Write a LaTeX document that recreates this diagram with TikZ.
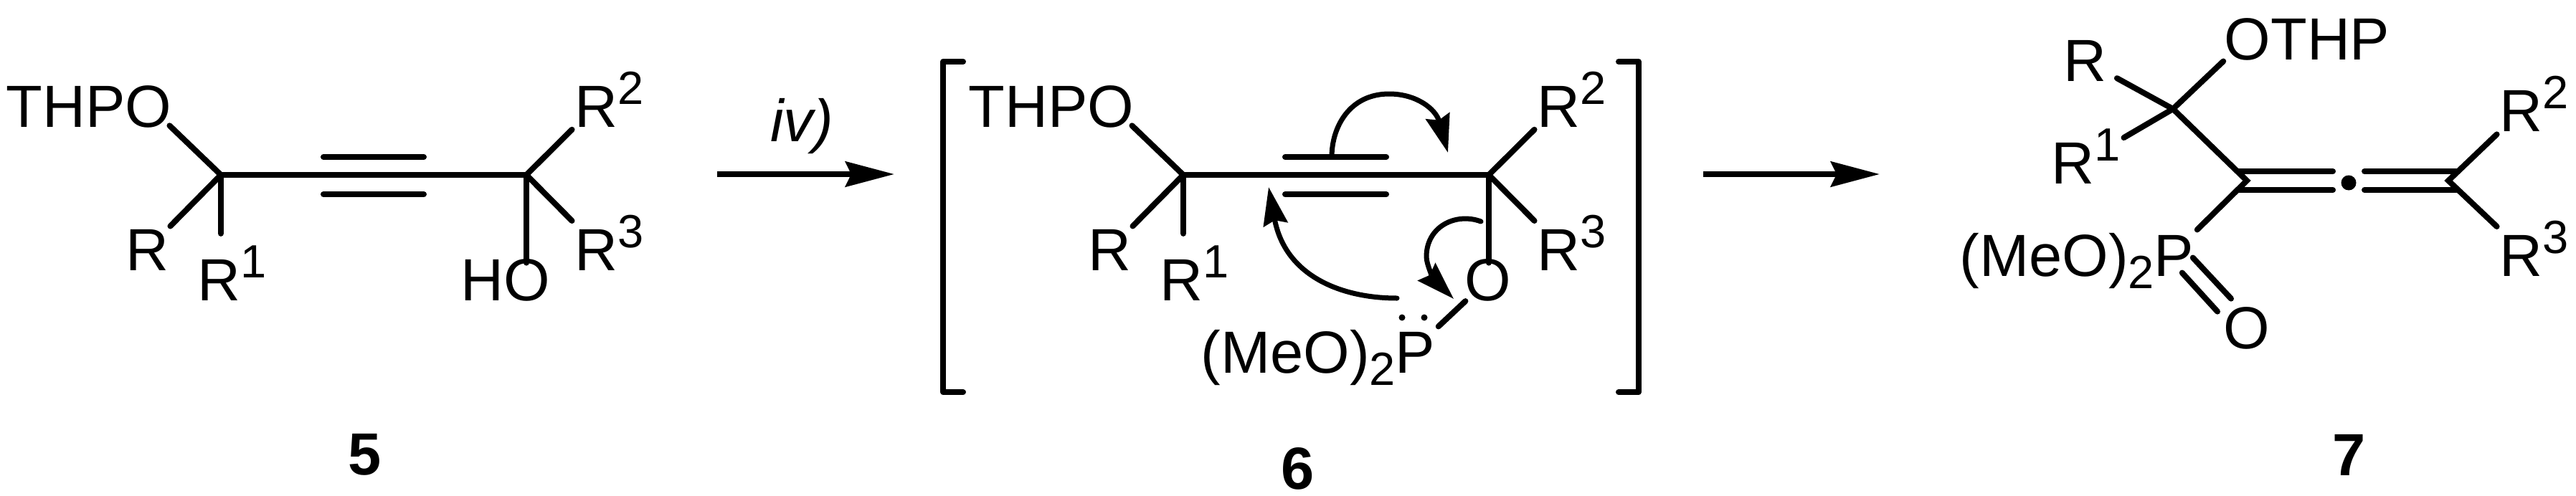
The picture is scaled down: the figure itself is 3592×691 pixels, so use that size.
\documentclass[tikz,border=0pt]{standalone}
\usepackage{fontspec}
\setmainfont{Liberation Sans}
\usetikzlibrary{arrows.meta}
\newcommand{\rsup}[1]{{\fontsize{32.5}{36}\selectfont\raisebox{16pt}{#1}}}
\newcommand{\rsub}[1]{{\fontsize{32.5}{36}\selectfont\raisebox{-8.5pt}{#1}}}
\begin{document}
\begin{tikzpicture}[x=0.5pt, y=-0.5pt, node distance=213pt,
    atom/.style={anchor=base, inner sep=2pt, font=\fontsize{41.5}{50}\selectfont},
    num/.style={atom, font=\fontsize{41.5}{50}\selectfont\bfseries},
    bond/.style={line width=4pt, line cap=round, line join=round},
    longbond/.style={bond, shorten >=-5pt},
    shortbond/.style={bond, shorten >=6pt},
    rxn/.style={line width=4pt, -{Stealth[length=34pt, width=17.5pt, inset=4pt]}},
    curly/.style={line width=3.5pt, line cap=round, -{Stealth[length=26.5pt, width=17pt, inset=3pt]}},
    pairdot/.style={circle, fill, inner sep=0pt, minimum size=4.5pt}]

    \useasboundingbox (0,0) rectangle (3592,691);

    % Nodes
    \coordinate (c5a) at (308,244);
    \coordinate [right of=c5a] (c5b);
    \node (thpo5) [atom] at (124,177) {THPO};
    \node (r5) [atom] at (205,377) {R};
    \node (ra5) [atom] at (324,419) {R\rsup{1}};
    \node (rb5) [atom] at (850,177) {R\rsup{2}};
    \node (rc5) [atom] at (850,377) {R\rsup{3}};
    \node (ho5) [atom] at (705,419) {HO};
    \node (num5) [num] at (509,662) {5};
    \coordinate (up5a) at (451,219);
    \coordinate (up5b) at (591,219);
    \coordinate (lo5a) at (451,271);
    \coordinate (lo5b) at (591,271);

    \coordinate (c6a) at (1650,244);
    \coordinate [right of=c6a] (c6b);
    \node (thpo6) [atom] at (1466,177) {THPO};
    \node (r6) [atom] at (1547,377) {R};
    \node (ra6) [atom] at (1666,419) {R\rsup{1}};
    \node (rb6) [atom] at (2192,177) {R\rsup{2}};
    \node (rc6) [atom] at (2192,377) {R\rsup{3}};
    \node (o6) [atom] at (2075,419) {O};
    \node (meo6) [atom] at (1838,520) {(MeO)\rsub{2}P};
    \node (dota6) [pairdot] at (1955,443) {};
    \node (dotb6) [pairdot] at (1986,443) {};
    \node (num6) [num] at (1810,682) {6};
    \coordinate (up6a) at (1792,219);
    \coordinate (up6b) at (1933,219);
    \coordinate (lo6a) at (1792,271);
    \coordinate (lo6b) at (1933,271);
    \coordinate (brl) at (1343,86);
    \coordinate (brm) at (1343,547);
    \coordinate (brr) at (2257,86);
    \coordinate (brs) at (2257,547);

    \coordinate (c7a) at (3030,152);
    \coordinate (c7b) at (3133,252);
    \coordinate (c7c) at (3414,252);
    \node (othp7) [atom] at (3217,83) {OTHP};
    \node (r7) [atom] at (2907,113) {R};
    \node (ra7) [atom] at (2909,256) {R\rsup{1}};
    \node (rb7) [atom] at (3534,183) {R\rsup{2}};
    \node (rc7) [atom] at (3534,385) {R\rsup{3}};
    \node (meo7) [atom] at (2896,385) {(MeO)\rsub{2}P};
    \node (o7) [atom] at (3133,486) {O};
    \node (dot7) [pairdot, minimum size=10.5pt] at (3275,255) {};
    \node (num7) [num] at (3276,663) {7};
    \coordinate (up7a) at (3122,239);
    \coordinate (up7b) at (3253,239);
    \coordinate (lo7a) at (3122,265);
    \coordinate (lo7b) at (3253,265);
    \coordinate (up7c) at (3297,239);
    \coordinate (up7d) at (3425,239);
    \coordinate (lo7c) at (3297,265);
    \coordinate (lo7d) at (3425,265);

    \node (cond) [atom, font=\fontsize{41.5}{50}\selectfont\itshape] at (1118,197) {iv)};
    \coordinate (ara) at (1000,243);
    \coordinate (arb) at (1247,243);
    \coordinate (arc) at (2375,243);
    \coordinate (ard) at (2621,243);
    \coordinate (pi6) at (1857,219);
    \coordinate (tipa) at (2019,213);
    \coordinate (lp6) at (1948,416);
    \coordinate (tipb) at (1769,261);
    \coordinate (oc6) at (2065,309);
    \coordinate (tipc) at (2027,417);

    % Edges of 5
    \draw[bond] (c5a) -- (c5b);
    \draw[bond] (up5a) -- (up5b);
    \draw[bond] (lo5a) -- (lo5b);
    \draw[longbond] (c5a) -- (thpo5.south east);
    \draw[bond] (c5a) -- (r5);
    \draw[shortbond] (c5a) -- (c5a |- ra5.north);
    \draw[bond] (c5b) -- (rb5.219);
    \draw[bond] (c5b) -- (rc5.150);
    \draw[longbond] (c5b) -- (c5b |- ho5.north);

    % Edges of 6
    \draw[bond] (c6a) -- (c6b);
    \draw[bond] (up6a) -- (up6b);
    \draw[bond] (lo6a) -- (lo6b);
    \draw[longbond] (c6a) -- (thpo6.south east);
    \draw[bond] (c6a) -- (r6);
    \draw[shortbond] (c6a) -- (c6a |- ra6.north);
    \draw[bond] (c6b) -- (rb6.219);
    \draw[bond] (c6b) -- (rc6.150);
    \draw[longbond] (c6b) -- (c6b |- o6.north);
    \draw[bond, shorten <=-3pt] (o6) -- (meo6.north east);
    \draw[bond] (brl) -- +(-28,0) |- (brm);
    \draw[bond] (brr) -- +(28,0) |- (brs);

    % Electron shifts
    \draw[curly] (pi6) .. controls (1857,177) and (1882,131) .. (1937,131)
        .. controls (1975,131) and (2002,152) .. (tipa);
    \draw[curly] (lp6) .. controls (1870,416) and (1792,385) .. (tipb);
    \draw[curly] (oc6) .. controls (2030,296) and (1989,316) .. (1989,358)
        .. controls (1989,370) and (2000,390) .. (tipc);

    % Edges of 7
    \draw[bond, line join=miter] (c7a) -- (c7b) -- (meo7.north east);
    \draw[bond, shorten >=-2pt] (c7a) -- (othp7.south west);
    \draw[shortbond] (c7a) -- (r7);
    \draw[bond] (c7a) -- (ra7.26);
    \draw[bond] (up7a) -- (up7b);
    \draw[bond] (lo7a) -- (lo7b);
    \draw[bond] (up7c) -- (up7d);
    \draw[bond] (lo7c) -- (lo7d);
    \draw[bond, line join=miter] (rb7.south west) -- (c7c) -- (rc7.150);
    \draw[bond] ([shift={(-6,-4)}]meo7.east) -- ([shift={(-22,-7)}]o7.north);
    \draw[bond] ([shift={(-21,17)}]meo7.east) -- ([shift={(-41,11)}]o7.north);

    % Reaction arrows
    \draw[rxn] (ara) -- (arb);
    \draw[rxn] (arc) -- (ard);
\end{tikzpicture}
\end{document}
